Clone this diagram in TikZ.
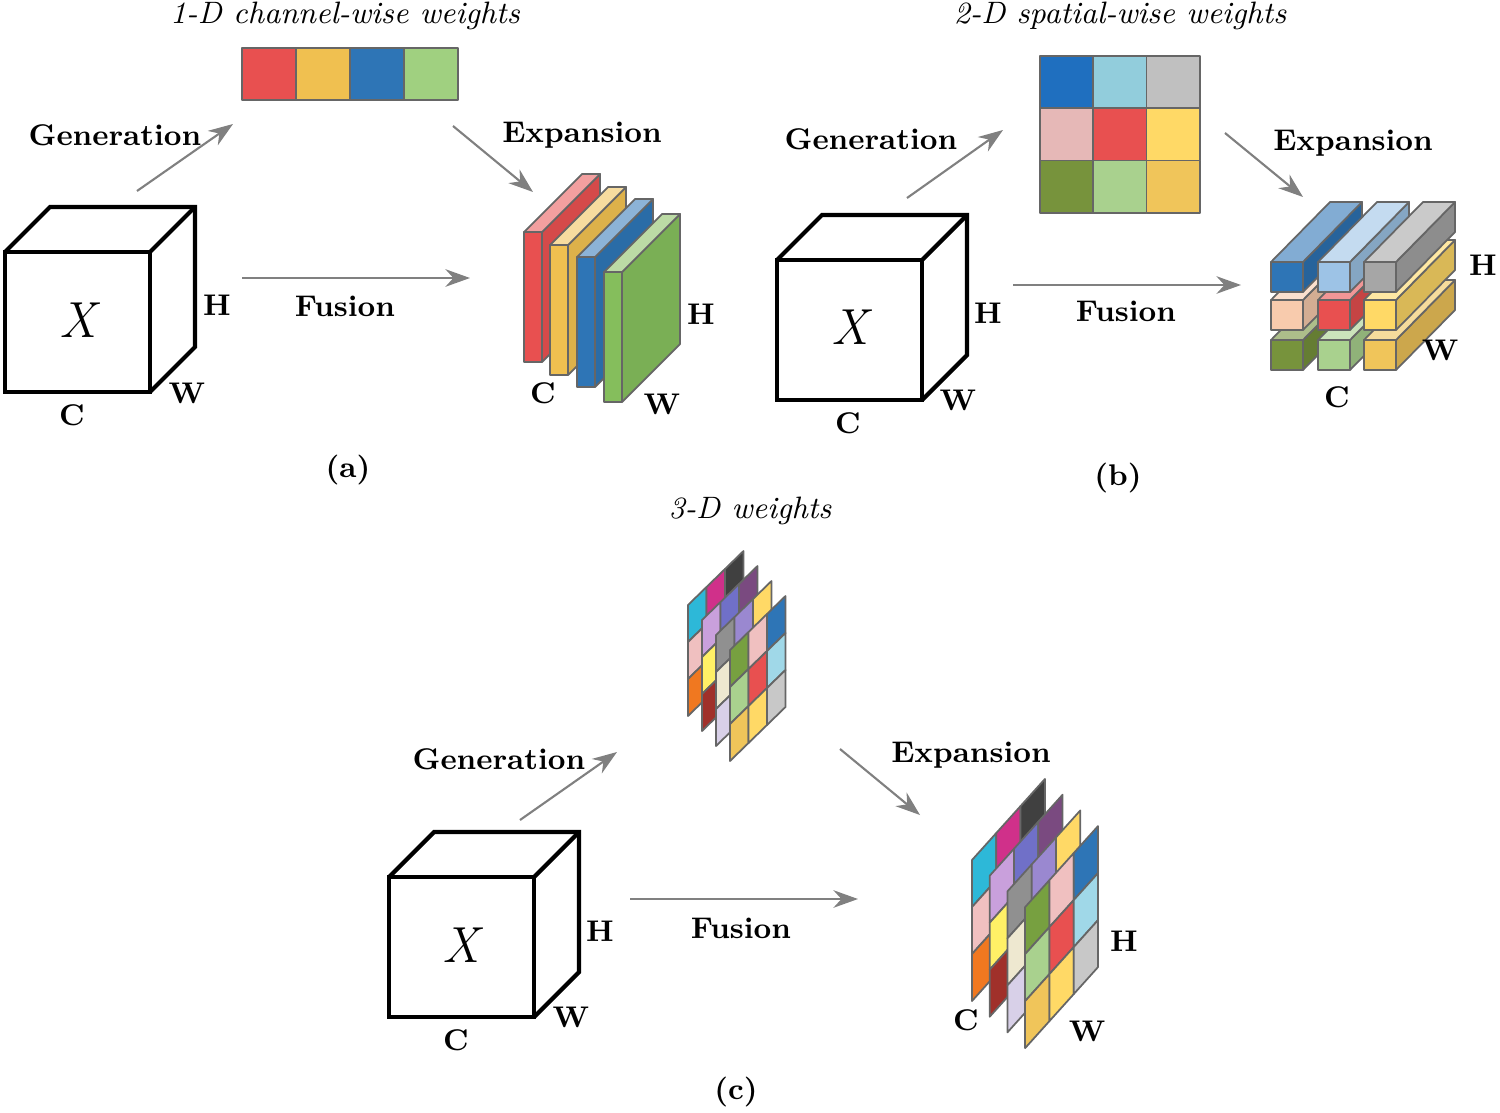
\documentclass[tikz,border=0pt]{standalone}
\usepackage{tikz}
\usetikzlibrary{arrows.meta}
\definecolor{wred}{HTML}{E85050}
\definecolor{wyel}{HTML}{F0C050}
\definecolor{wblue}{HTML}{2E75B6}
\definecolor{wgreen}{HTML}{A0D080}
\definecolor{wslgreen}{HTML}{85BE5C}
\definecolor{wdblue}{HTML}{1F6FBF}
\definecolor{wcyan}{HTML}{92CDDC}
\definecolor{wgray}{HTML}{C0C0C0}
\definecolor{wpink}{HTML}{E6B8B7}
\definecolor{wlyel}{HTML}{FFD966}
\definecolor{wolive}{HTML}{77933C}
\definecolor{wlgreen}{HTML}{A9D18E}
\definecolor{wgold}{HTML}{F0C55A}
\definecolor{wlblue}{HTML}{9DC3E6}
\definecolor{wmgray}{HTML}{A6A6A6}
\definecolor{wpeach}{HTML}{F8CBAD}
\definecolor{wsky}{HTML}{2DB8D8}
\definecolor{worange}{HTML}{F07820}
\definecolor{wmagenta}{HTML}{D0308A}
\definecolor{wdark}{HTML}{404040}
\definecolor{wlilac}{HTML}{C9A0DC}
\definecolor{wyellow}{HTML}{FFF066}
\definecolor{wdred}{HTML}{A0302A}
\definecolor{wslate}{HTML}{7070C8}
\definecolor{wpurple}{HTML}{7A4A80}
\definecolor{wmgr}{HTML}{909090}
\definecolor{wcream}{HTML}{EEE8D0}
\definecolor{wlav}{HTML}{D8D0E8}
\definecolor{wmpur}{HTML}{9A88D0}
\definecolor{wrose}{HTML}{F0C0C0}
\definecolor{wlcyan}{HTML}{A0D8E8}
\definecolor{wsilver}{HTML}{C8C8C8}
\definecolor{wgrn}{HTML}{77A040}

% input cube, front top-left corner
\newcommand\inputcube[2]{%
  \draw[cube] (#1,#2) rectangle ++(145,140);
  \draw[cube] (#1,#2) -- ++(45,-45) -- ++(145,0) -- ++(0,140) -- ++(-45,45);
  \draw[cube] (#1+145,#2) -- ++(45,-45);
}
% channel slab
\newcommand\slab[3]{%
  \draw[face,fill=#3] (#1,#2) rectangle ++(18,130);
  \draw[face,fill=#3!92!black] (#1+18,#2) -- ++(58,-58) -- ++(0,130) -- ++(-58,58) -- cycle;
  \draw[face,fill=#3!55!white] (#1,#2) -- ++(58,-58) -- ++(18,0) -- ++(-58,58) -- cycle;
}
% spatial bar
\newcommand\ebar[3]{%
  \draw[face,fill=#3] (#1,#2) rectangle ++(32,30);
  \draw[face,fill=#3!85!black] (#1+32,#2) -- ++(59,-60) -- ++(0,30) -- ++(-59,60) -- cycle;
  \draw[face,fill=#3!60!white] (#1,#2) -- ++(59,-60) -- ++(32,0) -- ++(-59,60) -- cycle;
}
% one sheet of the 3-D weights
\newcommand\wsheet[2]{%
  \foreach \col [count=\i from 0] in {#2}{
    \pgfmathsetmacro\w{int(\i/3)}
    \pgfmathsetmacro\h{mod(\i,3)}
    \draw[face,fill=\col] (\ox+#1*\cx+\w*\wx,\oy+#1*\cy+\w*\wy+\h*\hh) -- ++(\wx,\wy) -- ++(0,\hh) -- ++(-\wx,-\wy) -- cycle;
  }
}
\newcommand\wblock{%
  \wsheet{0}{wsky,wrose,worange,wmagenta,wlilac,wdred,wdark,wslate,wpurple}
  \wsheet{1}{wlilac,wyellow,wdred,wslate,wlav,wcream,wpurple,wmpur,wlyel}
  \wsheet{2}{wmgr,wcream,wlav,wmpur,wlilac,wrose,wlyel,wpink,wred}
  \wsheet{3}{wgrn,wlgreen,wgold,wrose,wred,wlyel,wblue,wlcyan,wsilver}
}

\tikzset{
  cube/.style={line width=1.2pt,line join=miter},
  face/.style={draw=black!60,line width=0.5pt,line join=round},
  flow/.style={-{Stealth[length=7pt,width=5pt]},draw=black!50,line width=0.6pt},
  lab/.style={font=\fontsize{8.5}{10}\selectfont\bfseries},
  ttl/.style={font=\fontsize{8.8}{10}\selectfont\itshape},
}

\begin{document}
\begin{tikzpicture}[x=0.01cm,y=-0.01cm]
\useasboundingbox (0,0) rectangle (1500,1112);

% (a)
\inputcube{5}{252}
\node[font=\Large\itshape] (xa) at (78,320) {X};
\node[lab] (ha) at (217,305) {H};
\node[lab] (wa) at (187,393) {W};
\node[lab] (ca) at (72,415) {C};
\foreach \col [count=\i from 0] in {wred,wyel,wblue,wgreen}
  \draw[face,fill=\col] (242+54*\i,48) rectangle ++(54,52);
\node[ttl] (ta) at (345,16) {1-D channel-wise weights};
\slab{524}{232}{wred}
\slab{550}{245}{wyel}
\slab{577}{257}{wblue}
\slab{604}{272}{wslgreen}
\node[lab] (hae) at (701,314) {H};
\node[lab] (wae) at (662,404) {W};
\node[lab] (cae) at (543,393) {C};
\coordinate (ga0) at (137,191); \coordinate (ga1) at (233,124);
\coordinate (fa0) at (242,278); \coordinate (fa1) at (470,278);
\coordinate (ea0) at (453,126); \coordinate (ea1) at (533,192);
\draw[flow] (ga0) -- (ga1);
\draw[flow] (fa0) -- (fa1);
\draw[flow] (ea0) -- (ea1);
\node[lab] (gla) at (115,135) {Generation};
\node[lab] (fla) at (345,306) {Fusion};
\node[lab] (ela) at (582,135) {Expansion};
\node[lab] (sa) at (348,470) {(a)};

% (b)
\inputcube{777}{260}
\node[font=\Large\itshape] (xb) at (850,327) {X};
\node[lab] (hb) at (988,313) {H};
\node[lab] (wb) at (958,400) {W};
\node[lab] (cb) at (848,423) {C};
\foreach \col [count=\i from 0] in {wdblue,wcyan,wgray,wpink,wred,wlyel,wolive,wlgreen,wgold}{
  \pgfmathsetmacro\cc{mod(\i,3)}
  \pgfmathsetmacro\rr{int(\i/3)}
  \draw[face,fill=\col] (1040+53.3*\cc,56+52.3*\rr) rectangle ++(53.3,52.3);
}
\node[ttl] (tb) at (1120,16) {2-D spatial-wise weights};
\foreach \r/\y in {2/340,1/300,0/262}
  \foreach \c/\x in {0/1271,1/1318,2/1364}{
    \pgfmathsetmacro\k{int(3*\r+\c)}
    \ifcase\k\relax
      \ebar{\x}{\y}{wblue}\or\ebar{\x}{\y}{wlblue}\or\ebar{\x}{\y}{wmgray}\or
      \ebar{\x}{\y}{wpeach}\or\ebar{\x}{\y}{wred}\or\ebar{\x}{\y}{wlyel}\or
      \ebar{\x}{\y}{wolive}\or\ebar{\x}{\y}{wlgreen}\or\ebar{\x}{\y}{wgold}\fi
  }
\node[lab] (hbe) at (1483,265) {H};
\node[lab] (wbe) at (1440,350) {W};
\node[lab] (cbe) at (1337,397) {C};
\coordinate (gb0) at (907,198); \coordinate (gb1) at (1003,130);
\coordinate (fb0) at (1013,285); \coordinate (fb1) at (1241,285);
\coordinate (eb0) at (1225,133); \coordinate (eb1) at (1303,197);
\draw[flow] (gb0) -- (gb1);
\draw[flow] (fb0) -- (fb1);
\draw[flow] (eb0) -- (eb1);
\node[lab] (glb) at (871,139) {Generation};
\node[lab] (flb) at (1126,311) {Fusion};
\node[lab] (elb) at (1353,143) {Expansion};
\node[lab] (sb) at (1118,478) {(b)};

% (c)
\inputcube{389}{877}
\node[font=\Large\itshape] (xc) at (461,945) {X};
\node[lab] (hc) at (600,931) {H};
\node[lab] (wc) at (571,1017) {W};
\node[lab] (cc) at (456,1040) {C};
\node[ttl] (tc) at (750,511) {3-D weights};
\def\ox{688}\def\oy{605}\def\cx{14}\def\cy{15}\def\wx{18.5}\def\wy{-18}\def\hh{37}
\wblock
\def\ox{972}\def\oy{860}\def\cx{17.7}\def\cy{15.7}\def\wx{24.3}\def\wy{-27}\def\hh{47}
\wblock
\node[lab] (hce) at (1124,941) {H};
\node[lab] (wce) at (1087,1031) {W};
\node[lab] (cce) at (966,1020) {C};
\coordinate (gc0) at (520,820); \coordinate (gc1) at (617,752);
\coordinate (fc0) at (630,899); \coordinate (fc1) at (858,899);
\coordinate (ec0) at (840,749); \coordinate (ec1) at (920,815);
\draw[flow] (gc0) -- (gc1);
\draw[flow] (fc0) -- (fc1);
\draw[flow] (ec0) -- (ec1);
\node[lab] (glc) at (499,759) {Generation};
\node[lab] (flc) at (741,928) {Fusion};
\node[lab] (elc) at (971,755) {Expansion};
\node[lab] (sc) at (736,1092) {(c)};
\end{tikzpicture}
\end{document}
